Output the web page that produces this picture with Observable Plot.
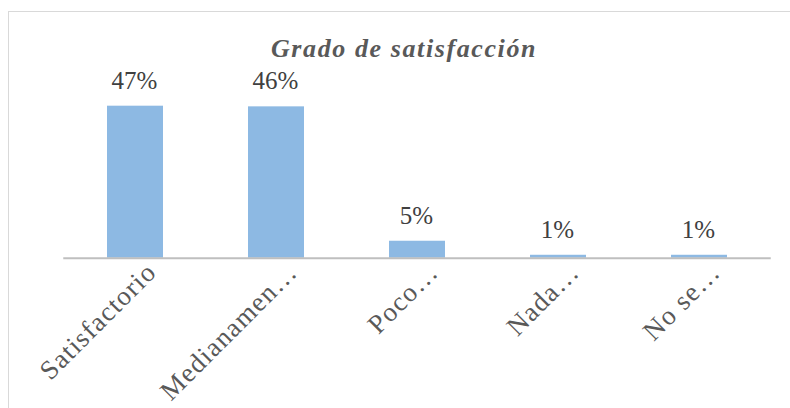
<!DOCTYPE html>
<html>
<head>
<meta charset="utf-8">
<script src="https://cdn.jsdelivr.net/npm/d3@7"></script>
<script src="https://cdn.jsdelivr.net/npm/@observablehq/plot@0.6"></script>
<style>
  html, body { margin: 0; padding: 0; background: #fff; }
  #wrap { position: relative; width: 790px; height: 408px; overflow: hidden; background: #fff; }
  #frame { position: absolute; left: 8px; top: 11px; width: 900px; height: 500px; border: 1px solid #d9d9d9; box-sizing: border-box; }
  #chart { position: absolute; left: 0; top: 0; }
  #chart svg text { font-family: "Liberation Serif", "Times New Roman", serif; }
  g[aria-description="chart-title"] text { letter-spacing: 1.6px; }
  g[aria-description="category-labels"] text { letter-spacing: 1.2px; }
</style>
</head>
<body>
<div id="wrap"><div id="frame"></div><div id="chart"></div></div>
<script>
const titleText = "Grado de satisfacción";
const categories = ["Satisfactorio", "Medianamen…", "Poco…", "Nada…", "No se…"];
const values = [46.6, 46.4, 5.2, 0.9, 0.9];

const rows = categories.map((c, i) => ({category: c, value: values[i]}));

const W = 790, H = 408;
const plot = Plot.plot({
  width: W,
  height: H,
  marginLeft: 63.25,
  marginRight: 19.25,
  marginTop: 94.6,
  marginBottom: 150.3,
  style: {background: "transparent", overflow: "visible"},
  x: {domain: categories, axis: null, paddingInner: 0.6, paddingOuter: 0.3},
  y: {domain: [0, 50], axis: null},
  marks: [
    Plot.barY(rows, {x: "category", y: "value", fill: "#8db9e3"}),
    Plot.ruleY([0], {stroke: "#bfbfbf", strokeWidth: 2}),
    Plot.text(rows, {
      x: "category", y: "value", text: d => Math.round(d.value) + "%",
      lineAnchor: "bottom", dy: -17.5, dx: -1,
      fontFamily: "Liberation Serif", fontSize: 25, fill: "#404040"
    }),
    Plot.text(rows, {
      x: "category", y: () => 0, text: "category",
      rotate: -45, textAnchor: "end", lineAnchor: "bottom",
      dx: 22.5, dy: 15.5,
      fontFamily: "Liberation Serif", fontSize: 27, fill: "#595959",
      ariaDescription: "category-labels"
    }),
    Plot.text([titleText], {
      frameAnchor: "top", text: d => d, lineAnchor: "bottom",
      dx: -13.5, dy: -38.6,
      fontFamily: "Liberation Serif", fontSize: 26, fontWeight: "bold", fontStyle: "italic",
      fill: "#595959", ariaDescription: "chart-title"
    })
  ]
});
document.getElementById("chart").appendChild(plot);
</script>
</body>
</html>
